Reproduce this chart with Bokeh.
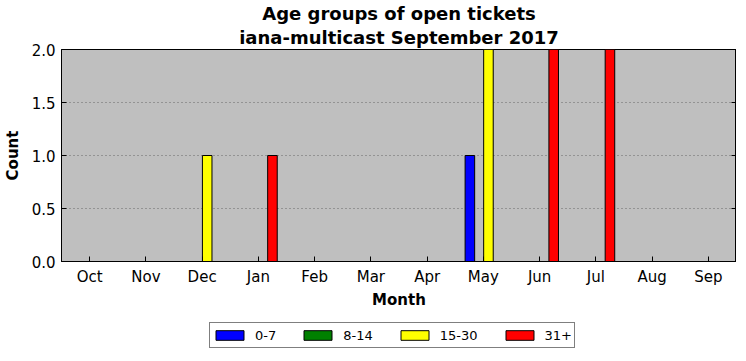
from bokeh.plotting import figure
from bokeh.layouts import column
from bokeh.models import (ColumnDataSource, Range1d, FactorRange, Legend, LegendItem,
                          LinearAxis, CustomJSTickFormatter, Title)
from bokeh.transform import dodge
from bokeh.embed import file_html
from bokeh.resources import INLINE

months = ["Oct", "Nov", "Dec", "Jan", "Feb", "Mar", "Apr", "May", "Jun", "Jul", "Aug", "Sep"]
age_0_7 = [0, 0, 0, 0, 0, 0, 0, 1, 0, 0, 0, 0]
age_8_14 = [0, 0, 0, 0, 0, 0, 0, 0, 0, 0, 0, 0]
age_15_30 = [0, 0, 1, 0, 0, 0, 0, 2, 0, 0, 0, 0]
age_31_plus = [0, 0, 0, 1, 0, 0, 0, 0, 2, 2, 0, 0]
series_labels = ["0-7", "8-14", "15-30", "31+"]
series_colors = ["#0000ff", "#008000", "#ffff00", "#ff0000"]
y_ticks = [0.0, 0.5, 1.0, 1.5, 2.0]
title_line1 = "Age groups of open tickets"
title_line2 = "iana-multicast September 2017"

FONT = "DejaVu Sans"

src = ColumnDataSource(dict(month=months, a=age_0_7, b=age_8_14, c=age_15_30, d=age_31_plus))

p = figure(frame_width=675, frame_height=212, x_range=FactorRange(*months, range_padding=0),
           y_range=Range1d(0, 2), output_backend="svg", toolbar_location=None,
           min_border_left=0, min_border_right=0, min_border_top=45, min_border_bottom=56)

p.background_fill_color = "#bfbfbf"
p.border_fill_color = "white"
p.outline_line_color = "black"
p.outline_line_width = 1

p.title.text = title_line1
p.title.align = "center"
p.title.text_font = FONT
p.title.text_font_size = "18px"
p.title.text_font_style = "bold"
p.title.text_color = "black"
p.title.standoff = 0
p.add_layout(Title(text=title_line2, align="center", text_font=FONT, text_font_size="18px",
                   text_font_style="bold", text_color="black", standoff=3), "above")

offsets = [-0.24, -0.08, 0.09, 0.25]
cols = ["a", "b", "c", "d"]
for col, off, color in zip(cols, offsets, series_colors):
    p.vbar(x=dodge("month", off, range=p.x_range), top=col, bottom=0, width=0.17,
           source=src, fill_color=color, line_color="black", line_width=1)

p.xgrid.grid_line_color = None
p.ygrid.grid_line_color = "#666666"
p.ygrid.grid_line_dash = "1 3"
p.ygrid.grid_line_width = 1
p.yaxis.ticker = y_ticks

for ax in p.xaxis + p.yaxis:
    ax.major_label_text_font = FONT
    ax.major_label_text_font_size = "15px"
    ax.major_label_text_color = "black"
    ax.axis_label_text_font = FONT
    ax.axis_label_text_font_size = "15px"
    ax.axis_label_text_font_style = "bold"
    ax.axis_label_text_color = "black"
    ax.major_tick_in = 5
    ax.major_tick_out = 0
    ax.minor_tick_in = 0
    ax.minor_tick_out = 0
    ax.major_tick_line_color = "black"
    ax.axis_line_color = "black"

p.xaxis.axis_label = "Month"
p.yaxis.axis_label = "Count"
p.xaxis.major_label_standoff = 6
p.yaxis.major_label_standoff = 6
p.xaxis.axis_label_standoff = 2
p.yaxis.axis_label_standoff = 7
p.yaxis.formatter = CustomJSTickFormatter(code="return tick.toFixed(1);")

blank = CustomJSTickFormatter(code="return '';")
right_ax = LinearAxis(ticker=y_ticks, formatter=blank, major_tick_in=5,
                      major_tick_out=0, minor_tick_in=0, minor_tick_out=0,
                      major_label_standoff=0, axis_line_color="black")
p.add_layout(right_ax, "right")

# legend strip below the chart
p2 = figure(frame_width=730, frame_height=32, x_range=FactorRange(*months, range_padding=0),
            y_range=Range1d(0, 2), output_backend="svg", toolbar_location=None,
            x_axis_location=None, y_axis_location=None,
            min_border_left=0, min_border_right=0, min_border_top=0, min_border_bottom=0)
p2.outline_line_color = None
p2.background_fill_color = "white"
p2.xgrid.grid_line_color = None
p2.ygrid.grid_line_color = None
leg_renderers = []
for col, off, color in zip(cols, offsets, series_colors):
    r = p2.vbar(x=dodge("month", off, range=p2.x_range), top=col, bottom=0, width=0.17,
                source=src, fill_color=color, line_color="black", line_width=1, visible=False)
    leg_renderers.append(r)

legend = Legend(items=[LegendItem(label=l, renderers=[r]) for l, r in zip(series_labels, leg_renderers)],
                orientation="horizontal", location=(209, 1),
                glyph_width=35, glyph_height=12, label_standoff=8, spacing=24,
                padding=2, label_height=20, label_text_font=FONT, label_text_font_size="13px",
                label_text_color="black", border_line_color="black", border_line_width=1,
                background_fill_color="white", background_fill_alpha=1, margin=0)
p2.add_layout(legend, "center")

layout = column(p, p2, spacing=0)
open("out.html", "w").write(file_html(layout, INLINE))
